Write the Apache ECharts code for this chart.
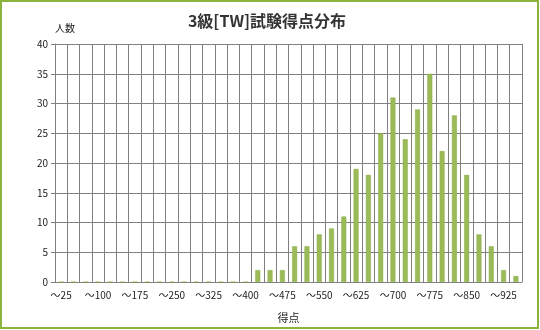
<!DOCTYPE html>
<html><head><meta charset="utf-8">
<script src="https://cdn.jsdelivr.net/npm/echarts@6/dist/echarts.min.js"></script>
<style>html,body{margin:0;padding:0;background:#fff;}#c{width:540px;height:330px;}</style>
</head><body><div id="c"></div>
<script>
const categories = [];
for (let s = 25; s <= 950; s += 25) categories.push('～' + s);
const counts = [0,0,0,0,0,0,0,0,0,0,0,0,0,0,0,0,
  2,2,2,6,6,8,9,11,19,18,25,31,24,29,35,22,28,18,8,6,2,1];
const yTicks = [0,5,10,15,20,25,30,35,40];

const chart = echarts.init(document.getElementById('c'), null, {renderer:'canvas'});
const font = '"Noto Sans CJK JP", sans-serif';
chart.setOption({
  animation:false,
  backgroundColor:'#fff',
  title:{text:'3級[TW]試験得点分布', left:262, top:8, textAlign:'center',
    textStyle:{fontFamily:font, fontSize:16, fontWeight:'bold', color:'#333'}},
  grid:{left:55, right:18, top:44, bottom:48, containLabel:false},
  xAxis:{type:'category', data:categories, boundaryGap:true,
    name:'得点', nameLocation:'middle', nameGap:30,
    nameTextStyle:{fontFamily:font, fontSize:11, color:'#222'},
    axisLine:{lineStyle:{color:'#808080'}},
    axisTick:{show:false},
    axisLabel:{interval:2, fontFamily:font, fontSize:10, color:'#222', margin:8},
    splitLine:{show:true, interval:0, lineStyle:{color:'#808080', width:1}}},
  yAxis:{type:'value', min:yTicks[0], max:yTicks[yTicks.length-1], interval:5,
    name:'人数', nameLocation:'end', nameGap:11,
    nameTextStyle:{fontFamily:font, fontSize:10, color:'#222', align:'left'},
    axisLine:{show:true, lineStyle:{color:'#808080'}},
    axisTick:{show:true, length:4, lineStyle:{color:'#808080'}},
    axisLabel:{fontFamily:font, fontSize:10, color:'#222', margin:7},
    splitLine:{show:true, lineStyle:{color:'#808080', width:1}}},
  series:[{type:'bar', data:counts, barWidth:'40%',
    itemStyle:{color:'#9BBB59', borderColor:'#86AA3E', borderWidth:0.5}}],
  graphic:[{type:'rect', shape:{x:1, y:1, width:537, height:327},
    style:{fill:'none', stroke:'#8CB43C', lineWidth:2}, z:100}]
});
</script></body></html>
